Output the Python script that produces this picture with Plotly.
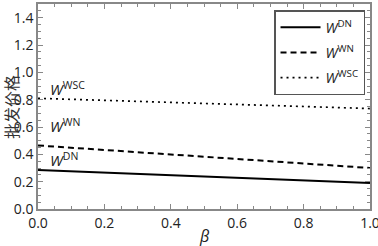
import plotly.graph_objects as go

beta = [0.0, 0.2, 0.4, 0.6, 0.8, 1.0]
w_dn = [0.285, 0.266, 0.247, 0.228, 0.209, 0.190]
w_wn = [0.465, 0.432, 0.399, 0.366, 0.333, 0.300]
w_wsc = [0.810, 0.795, 0.780, 0.765, 0.750, 0.735]

x_ticks = [0.0, 0.2, 0.4, 0.6, 0.8, 1.0]
y_ticks = [0.0, 0.2, 0.4, 0.6, 0.8, 1.0, 1.2, 1.4]

font_fam = "Open Sans, Noto Sans CJK SC, sans-serif"

fig = go.Figure()
fig.add_trace(go.Scatter(x=beta, y=w_dn, mode="lines", name="<i>W</i><sup>DN</sup>", legendgroup="a",
                         line=dict(color="black", width=2, dash="solid")))
fig.add_trace(go.Scatter(x=beta, y=w_wn, mode="lines", name="<i>W</i><sup>WN</sup>", legendgroup="b",
                         line=dict(color="black", width=2, dash="6px,4px")))
fig.add_trace(go.Scatter(x=beta, y=w_wsc, mode="lines", name="<i>W</i><sup>WSC</sup>", legendgroup="c",
                         line=dict(color="black", width=1.7, dash="2px,4px")))

for txt, y in [("<i>W</i><sup>WSC</sup>", 0.88), ("<i>W</i><sup>WN</sup>", 0.61), ("<i>W</i><sup>DN</sup>", 0.365)]:
    fig.add_annotation(x=0.03, y=y, text=txt, showarrow=False, xanchor="left",
                       font=dict(size=15, color="#222", family=font_fam))

fig.add_annotation(xref="paper", yref="paper", x=0.5, y=-0.13, yanchor="middle",
                   text="<i>β</i>", showarrow=False,
                   font=dict(size=16, color="#222", family=font_fam))
fig.add_annotation(xref="paper", yref="paper", x=-0.08, y=0.5, xanchor="center", yanchor="middle",
                   text="批发价格", textangle=-90, showarrow=False,
                   font=dict(size=16, color="#333", family=font_fam))

axis_common = dict(showline=True, linecolor="#888", linewidth=1.5, mirror="ticks",
                   ticks="inside", ticklen=5, tickcolor="#888", showgrid=False, zeroline=False,
                   ticklabeloverflow="allow", automargin=False,
                   tickfont=dict(size=14, color="#222", family=font_fam))

fig.update_xaxes(range=[0, 1], tickvals=x_ticks, ticktext=[f"{v:.1f}" for v in x_ticks],
                 minor=dict(ticks="inside", ticklen=3, tickcolor="#888", dtick=0.05),
                 **axis_common)
fig.update_yaxes(range=[0, 1.5], tickvals=y_ticks, ticktext=[f"{v:.1f}" for v in y_ticks],
                 minor=dict(ticks="inside", ticklen=3, tickcolor="#888", dtick=0.05),
                 **axis_common)

fig.update_layout(
    width=378, height=246,
    margin=dict(l=38, r=8, t=4, b=37, autoexpand=False),
    plot_bgcolor="white", paper_bgcolor="white",
    showlegend=True,
    legend=dict(x=0.985, y=0.97, xanchor="right", yanchor="top",
                bordercolor="#555", borderwidth=1.5, bgcolor="white",
                font=dict(size=14, color="#222", family=font_fam),
                itemwidth=40, tracegroupgap=4),
)

fig.write_html("out.html", config={"displayModeBar": False},
               post_script="document.body.style.margin='0';document.body.style.overflow='hidden';")
